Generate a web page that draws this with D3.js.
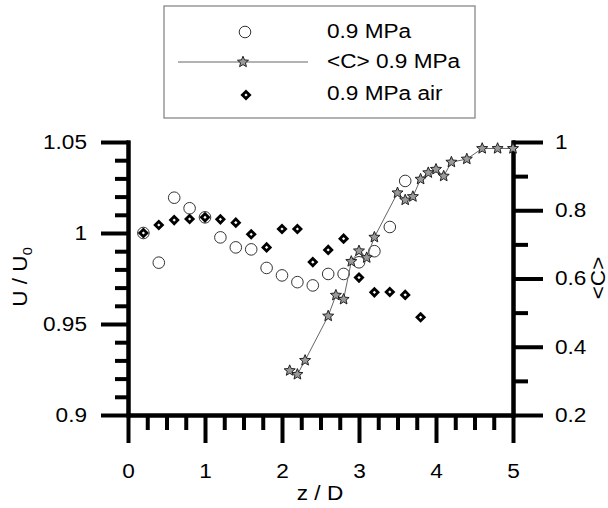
<!DOCTYPE html>
<html>
<head>
<meta charset="utf-8">
<script src="https://cdn.jsdelivr.net/npm/d3@7"></script>
<style>
  html, body { margin: 0; padding: 0; background: #fff; }
  svg { display: block; }
  text { font-family: "Liberation Sans", Arial, sans-serif; fill: #000; }
</style>
</head>
<body>
<svg id="chart" width="608" height="508"></svg>
<script>
// ---------- data ----------
const zU = [0.2, 0.4, 0.6, 0.8, 1.0, 1.2, 1.4, 1.6, 1.8, 2.0, 2.2, 2.4, 2.6, 2.8, 3.0, 3.2, 3.4, 3.6];
const u09 = [1.000, 0.9837, 1.0194, 1.0136, 1.0086, 0.9976, 0.9921, 0.9910, 0.9808, 0.9767, 0.9730, 0.9712, 0.9775, 0.9775, 0.9839, 0.9900, 1.0033, 1.0286];

const zAir = [0.2, 0.4, 0.6, 0.8, 1.0, 1.2, 1.4, 1.6, 1.8, 2.0, 2.2, 2.4, 2.6, 2.8, 3.0, 3.2, 3.4, 3.6, 3.8];
const u09air = [1.000, 1.0044, 1.0071, 1.0077, 1.0086, 1.0075, 1.0057, 0.9993, 0.9921, 1.0022, 1.0022, 0.9840, 0.9907, 0.9969, 0.9755, 0.9674, 0.9676, 0.9660, 0.9537];

const zC = [2.1, 2.2, 2.3, 2.6, 2.7, 2.8, 2.9, 3.0, 3.1, 3.2, 3.5, 3.6, 3.7, 3.8, 3.9, 4.0, 4.1, 4.2, 4.4, 4.6, 4.8, 5.0];
const c09 = [0.330, 0.319, 0.360, 0.490, 0.551, 0.539, 0.650, 0.681, 0.661, 0.721, 0.851, 0.830, 0.840, 0.891, 0.910, 0.920, 0.900, 0.941, 0.950, 0.981, 0.981, 0.981];

const xTicks = [0, 1, 2, 3, 4, 5];
const xTickLabels = ["0", "1", "2", "3", "4", "5"];
const xMinor = [0.25, 0.5, 0.75, 1.25, 1.5, 1.75, 2.25, 2.5, 2.75, 3.25, 3.5, 3.75, 4.25, 4.5, 4.75];
const yLTicks = [0.9, 0.95, 1.0, 1.05];
const yLTickLabels = ["0.9", "0.95", "1", "1.05"];
const yLMinor = [0.91, 0.92, 0.93, 0.94, 0.96, 0.97, 0.98, 0.99, 1.01, 1.02, 1.03, 1.04];
const yRTicks = [0.2, 0.4, 0.6, 0.8, 1.0];
const yRTickLabels = ["0.2", "0.4", "0.6", "0.8", "1"];
const yRMinor = [0.3, 0.5, 0.7, 0.9];
const legendLabels = ["0.9 MPa", "<C> 0.9 MPa", "0.9 MPa air"];

// ---------- setup ----------
const svg = d3.select("#chart");
const x = d3.scaleLinear().domain([0, 5]).range([128, 513]);
const yL = d3.scaleLinear().domain([0.9, 1.05]).range([415, 142]);
const yR = d3.scaleLinear().domain([0.2, 1.0]).range([415, 142]);
const FS = 20, STRETCH = 1.13, AXW = 4;

function stretch(sel) {
  sel.each(function () {
    const w = this.getComputedTextLength();
    this.setAttribute("textLength", (w * STRETCH).toFixed(2));
    this.setAttribute("lengthAdjust", "spacingAndGlyphs");
  });
}
function styleAxis(g) {
  g.selectAll("path.domain").attr("stroke", "#000").style("stroke-width", AXW + "px").style("stroke-linecap", "square");
  g.selectAll(".tick line").attr("stroke", "#000").style("stroke-width", AXW + "px");
  g.selectAll(".tick text").attr("font-size", FS).attr("font-family", "Liberation Sans, Arial, sans-serif").attr("fill", "#000");
}

// ---------- axes ----------
// left
const gLm = svg.append("g").attr("transform", "translate(128,0)")
  .call(d3.axisLeft(yL).tickValues(yLMinor).tickSize(13).tickSizeOuter(0).tickFormat(""));
styleAxis(gLm);
const gL = svg.append("g").attr("transform", "translate(128,0)")
  .call(d3.axisLeft(yL).tickValues(yLTicks).tickSize(27).tickSizeOuter(0).tickPadding(14)
    .tickFormat((d, i) => yLTickLabels[i]));
styleAxis(gL);
gL.selectAll(".tick text").call(stretch);

// right
const gRm = svg.append("g").attr("transform", "translate(513,0)")
  .call(d3.axisRight(yR).tickValues(yRMinor).tickSize(15).tickSizeOuter(0).tickFormat(""));
styleAxis(gRm);
const gR = svg.append("g").attr("transform", "translate(513,0)")
  .call(d3.axisRight(yR).tickValues(yRTicks).tickSize(30).tickSizeOuter(0).tickPadding(12)
    .tickFormat((d, i) => yRTickLabels[i]));
styleAxis(gR);
gR.selectAll(".tick text").call(stretch);

// bottom
const gBm = svg.append("g").attr("transform", "translate(0,415)")
  .call(d3.axisBottom(x).tickValues(xMinor).tickSize(15).tickSizeOuter(0).tickFormat(""));
styleAxis(gBm);
const gB = svg.append("g").attr("transform", "translate(0,415)")
  .call(d3.axisBottom(x).tickValues(xTicks).tickSize(28).tickSizeOuter(0).tickPadding(21)
    .tickFormat((d, i) => xTickLabels[i]));
styleAxis(gB);
gB.selectAll(".tick text").call(stretch);

// axis titles
svg.append("text").attr("x", 320).attr("y", 500).attr("text-anchor", "middle")
  .attr("font-size", FS).text("z / D").call(stretch);

const yTitle = svg.append("text").attr("transform", "translate(27,277) rotate(-90)")
  .attr("text-anchor", "middle").attr("font-size", FS);
yTitle.append("tspan").text("U / U");
yTitle.append("tspan").attr("font-size", 13).attr("dy", 5).text("0");
yTitle.call(stretch);

svg.append("text").attr("transform", "translate(605,278) rotate(-90)")
  .attr("text-anchor", "middle").attr("font-size", FS).text("<C>").call(stretch);

// ---------- marks ----------
const starPath = (() => {
  const R = 5.8, r = 2.6, pts = [];
  for (let i = 0; i < 10; i++) {
    const a = -Math.PI / 2 + i * Math.PI / 5;
    const rr = i % 2 === 0 ? R : r;
    pts.push([rr * Math.cos(a), rr * Math.sin(a)]);
  }
  return "M" + pts.map(p => p[0].toFixed(2) + "," + p[1].toFixed(2)).join("L") + "Z";
})();
const diamondPath = "M0,-3.6L3.6,0L0,3.6L-3.6,0Z";

const plot = svg.append("g");

// circles: 0.9 MPa
plot.selectAll("circle.u").data(zU).join("circle").attr("class", "u")
  .attr("cx", (d) => x(d)).attr("cy", (d, i) => yL(u09[i])).attr("r", 5.8)
  .attr("fill", "none").attr("stroke", "#333").attr("stroke-width", 1);

// diamonds: air
plot.selectAll("path.air").data(zAir).join("path").attr("class", "air")
  .attr("d", diamondPath)
  .attr("transform", (d, i) => `translate(${x(d)},${yL(u09air[i])})`)
  .attr("fill", "#fff").attr("stroke", "#000").attr("stroke-width", 2.8).attr("stroke-linejoin", "miter");

// <C> line and stars
const cLine = d3.line().x((d) => x(d)).y((d, i) => yR(c09[i]));
plot.append("path").attr("d", cLine(zC)).attr("fill", "none").attr("stroke", "#666").attr("stroke-width", 1);
plot.selectAll("path.star").data(zC).join("path").attr("class", "star")
  .attr("d", starPath)
  .attr("transform", (d, i) => `translate(${x(d)},${yR(c09[i])})`)
  .attr("fill", "#999").attr("stroke", "#111").attr("stroke-width", 0.9);

// ---------- legend ----------
const lg = svg.append("g");
lg.append("rect").attr("x", 164).attr("y", 6).attr("width", 311).attr("height", 112)
  .attr("fill", "#fff").attr("stroke", "#888").attr("stroke-width", 1.3);
lg.append("circle").attr("cx", 245).attr("cy", 32).attr("r", 5.8)
  .attr("fill", "none").attr("stroke", "#333").attr("stroke-width", 1);
lg.append("line").attr("x1", 178).attr("x2", 308).attr("y1", 62).attr("y2", 62)
  .attr("stroke", "#666").attr("stroke-width", 1);
lg.append("path").attr("d", starPath).attr("transform", "translate(243,62)")
  .attr("fill", "#999").attr("stroke", "#111").attr("stroke-width", 0.9);
lg.append("path").attr("d", diamondPath).attr("transform", "translate(246,95)")
  .attr("fill", "#fff").attr("stroke", "#000").attr("stroke-width", 2.8);
const lgY = [38, 68, 100];
lg.selectAll("text.lgt").data(legendLabels).join("text").attr("class", "lgt")
  .attr("x", 327).attr("y", (d, i) => lgY[i]).attr("font-size", FS).text(d => d).call(stretch);
</script>
</body>
</html>
